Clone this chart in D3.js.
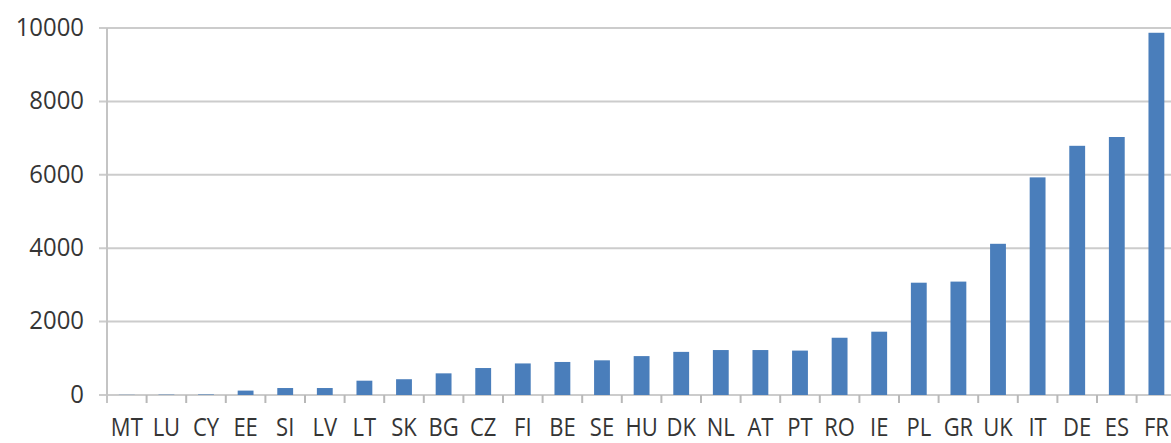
<!DOCTYPE html>
<html>
<head>
<meta charset="utf-8">
<script src="https://cdn.jsdelivr.net/npm/d3@7"></script>
<style>
  html, body { margin: 0; padding: 0; background: #fff; overflow: hidden; }
  svg { display: block; }
  text { font-family: "Open Sans", sans-serif; fill: #3a3a3a; }
</style>
</head>
<body>
<svg id="chart" width="1171" height="443"></svg>
<script>
const categories = ["MT","LU","CY","EE","SI","LV","LT","SK","BG","CZ","FI","BE","SE","HU","DK","NL","AT","PT","RO","IE","PL","GR","UK","IT","DE","ES","FR"];
const values = [5, 10, 15, 120, 190, 190, 390, 430, 590, 735, 860, 900, 945, 1060, 1175, 1225, 1225, 1210, 1560, 1725, 3060, 3090, 4120, 5930, 6790, 7030, 9870];
const yTicks = [0, 2000, 4000, 6000, 8000, 10000];

const svg = d3.select("#chart");
const x0 = 107, yTop = 28, yBottom = 395, band = 39.6;

const x = d3.scaleBand()
  .domain(categories)
  .range([x0, x0 + band * categories.length])
  .paddingInner(0.6)
  .paddingOuter(0.3);

const y = d3.scaleLinear().domain([0, 10000]).range([yBottom, yTop]);

// gridlines
svg.append("g")
  .selectAll("line")
  .data(yTicks)
  .join("line")
  .attr("x1", x0 - 8)
  .attr("x2", 1171)
  .attr("y1", d => y(d))
  .attr("y2", d => y(d))
  .attr("stroke", "#cccccc")
  .attr("stroke-width", 2);

// y axis
const yAxis = svg.append("g")
  .attr("transform", `translate(${x0},0)`)
  .call(d3.axisLeft(y).tickValues(yTicks).tickFormat(d3.format("d")).tickSize(0).tickPadding(25));
yAxis.select(".domain").remove();
yAxis.selectAll("text")
  .attr("font-size", 26)
  .attr("dy", "0.28em")
  .attr("transform", "scale(0.92,1)")
  .style("fill", "#353535");

svg.append("line")
  .attr("x1", x0).attr("x2", x0)
  .attr("y1", yTop).attr("y2", yBottom + 8)
  .attr("stroke", "#c4c4c4").attr("stroke-width", 2);

// x axis ticks at band boundaries
svg.append("g")
  .selectAll("line")
  .data(categories.slice(1))
  .join("line")
  .attr("x1", d => x(d) + x.bandwidth() / 2 - x.step() / 2)
  .attr("x2", d => x(d) + x.bandwidth() / 2 - x.step() / 2)
  .attr("y1", yBottom)
  .attr("y2", yBottom + 8)
  .attr("stroke", "#b8b8b8")
  .attr("stroke-width", 2);

// bars
svg.append("g")
  .selectAll("rect")
  .data(categories)
  .join("rect")
  .attr("x", d => x(d))
  .attr("width", x.bandwidth())
  .attr("y", (d, i) => y(values[i]))
  .attr("height", (d, i) => yBottom - y(values[i]))
  .attr("fill", "#4a7ebb");

// x labels
const xAxis = svg.append("g")
  .attr("transform", `translate(0,${yBottom})`)
  .call(d3.axisBottom(x).tickSize(0).tickPadding(0));
xAxis.select(".domain").remove();
xAxis.selectAll("text")
  .attr("font-size", 25)
  .attr("y", 41)
  .attr("dy", 0)
  .attr("transform", "scale(0.88,1)")
  .style("fill", "#353535");
</script>
</body>
</html>
